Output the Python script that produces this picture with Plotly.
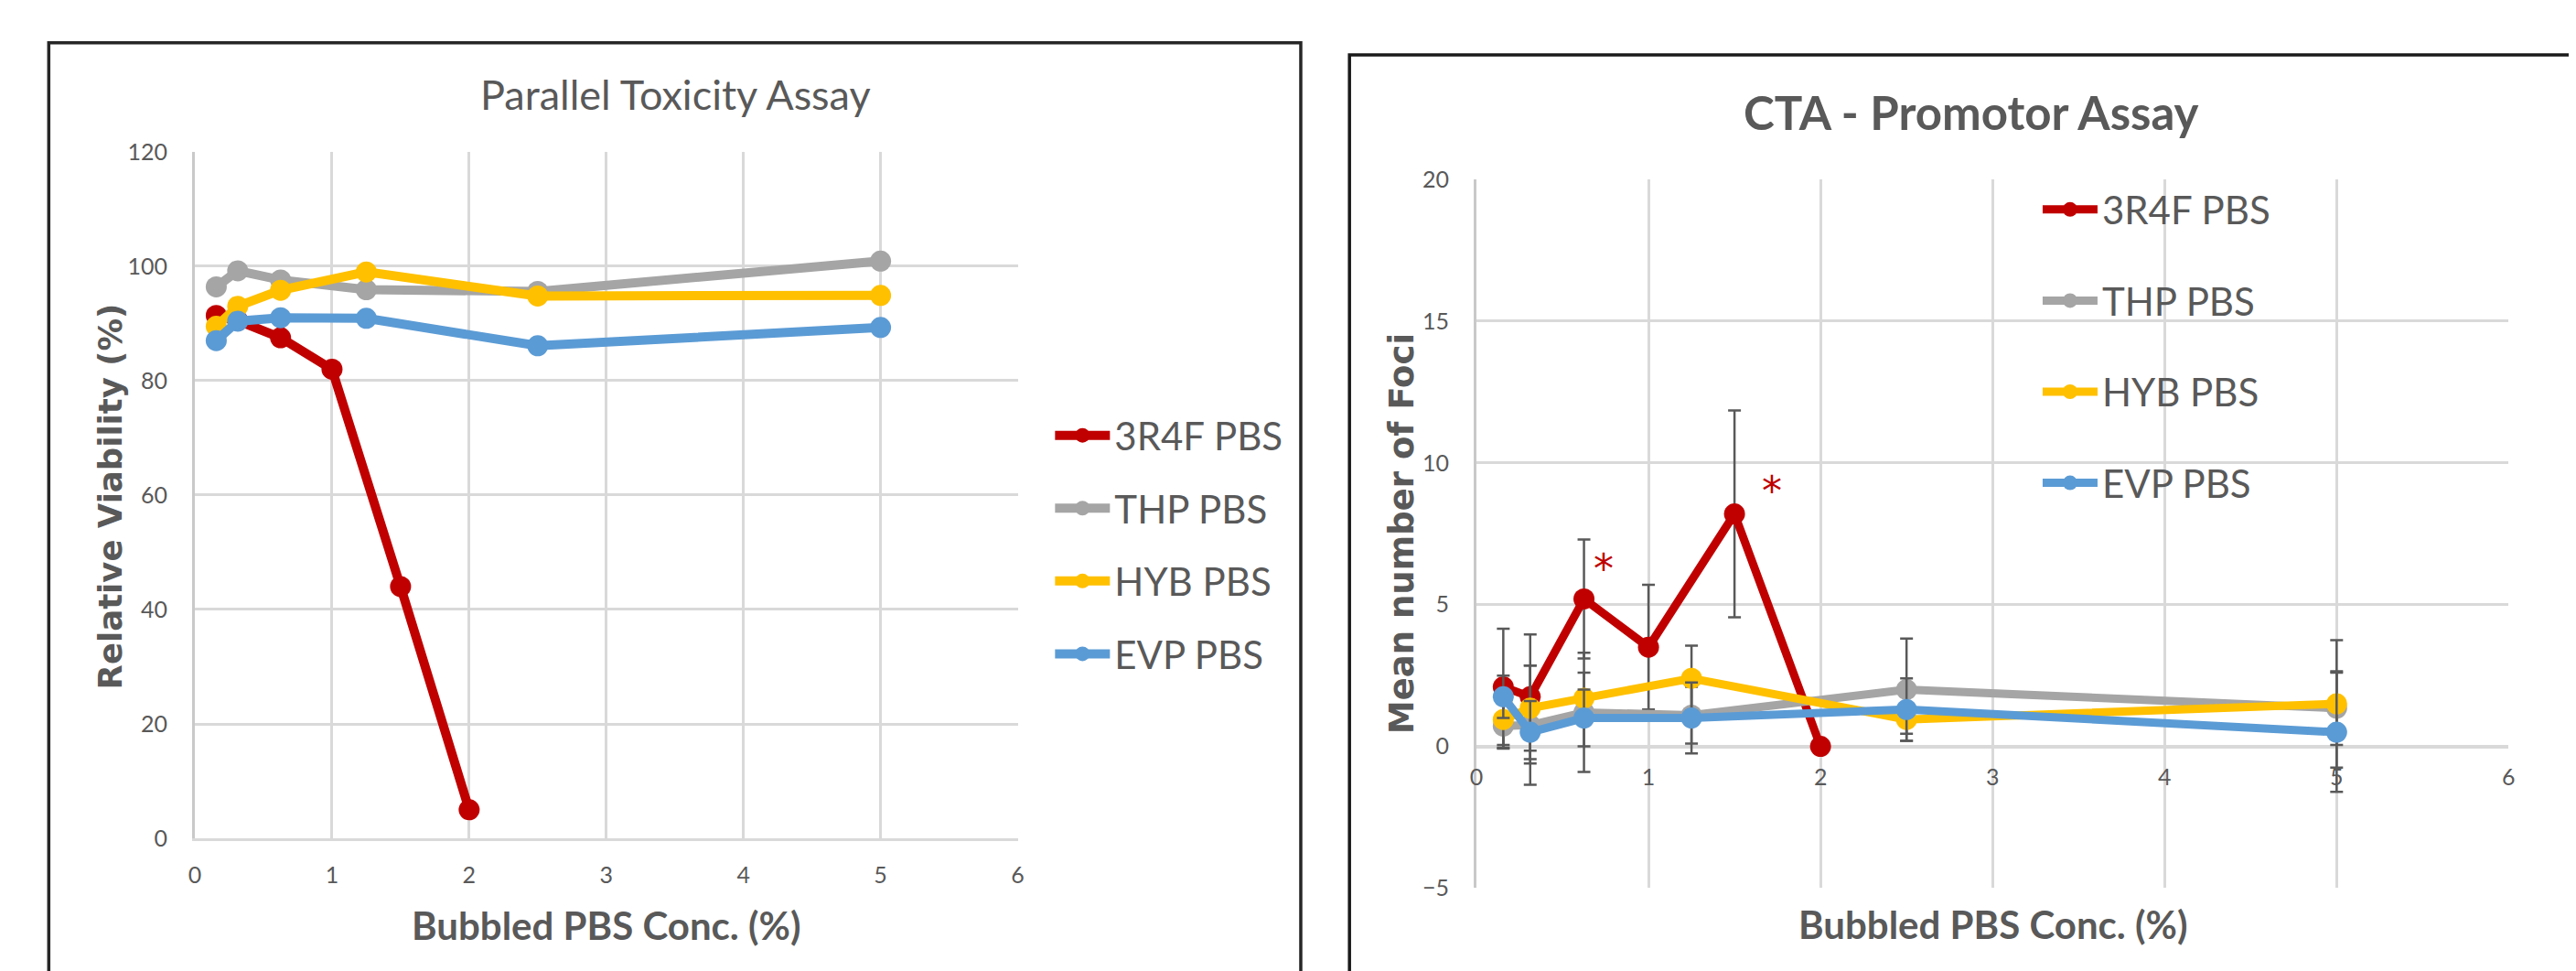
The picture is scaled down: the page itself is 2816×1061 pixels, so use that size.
import plotly.graph_objects as go

W, H = 2816, 1061

def px(x):
    return x / W

def py(y):
    return 1 - y / H

# ---------------- data ----------------
series_names = ["3R4F PBS", "THP PBS", "HYB PBS", "EVP PBS"]
series_colors = ["#C00000", "#A5A5A5", "#FFC000", "#5B9BD5"]

x_3r4f = [0.156, 0.3125, 0.625, 1.0, 1.5, 2.0]
x_other = [0.156, 0.3125, 0.625, 1.25, 2.5, 5.0]

# Parallel Toxicity Assay (Relative Viability %)
tox_3r4f = [91.4, 90.5, 87.5, 82.0, 44.0, 5.0]
tox_thp = [96.4, 99.2, 97.6, 95.9, 95.6, 100.9]
tox_hyb = [89.5, 93.0, 95.8, 99.0, 94.8, 94.9]
tox_evp = [87.0, 90.4, 91.0, 90.9, 86.1, 89.3]

# CTA - Promotor Assay (Mean number of Foci) and error bars
cta_3r4f = [2.1, 1.75, 5.2, 3.5, 8.2, 0.0]
cta_3r4f_err = [2.05, 2.2, 2.1, 2.2, 3.65, 0.0]
cta_thp = [0.72, 0.75, 1.2, 1.1, 2.0, 1.35]
cta_thp_err = [0.8, 2.1, 2.1, 1.0, 1.8, 1.3]
cta_hyb = [0.95, 1.35, 1.7, 2.4, 0.95, 1.5]
cta_hyb_err = [1.0, 1.5, 0.9, 1.15, 0.5, 2.25]
cta_evp = [1.75, 0.5, 1.0, 1.0, 1.3, 0.5]
cta_evp_err = [0.75, 1.1, 1.0, 1.25, 1.1, 2.1]

# significance marks (x, y)
star_x = [0.74, 1.72]
star_y = [6.25, 9.0]

x_ticks = [0, 1, 2, 3, 4, 5, 6]
left_y_ticks = [0, 20, 40, 60, 80, 100, 120]
right_y_ticks = [-5, 0, 5, 10, 15, 20]

# ---------------- style ----------------
NARROW = "Lato, Liberation Sans Narrow, DejaVu Sans Condensed, sans-serif"
WIDE = "DejaVu Sans, Verdana, sans-serif"
TXT = "#595959"
GRID = "#d9d9d9"

fig = go.Figure()

left_x = [x_3r4f, x_other, x_other, x_other]
left_y = [tox_3r4f, tox_thp, tox_hyb, tox_evp]
for i in range(4):
    fig.add_trace(go.Scatter(
        x=left_x[i], y=left_y[i], mode="lines+markers", name=series_names[i],
        line=dict(color=series_colors[i], width=10),
        marker=dict(color=series_colors[i], size=23),
        xaxis="x", yaxis="y", legend="legend", legendgroup="L%d" % i,
    ))

right_y = [cta_3r4f, cta_thp, cta_hyb, cta_evp]
right_err = [cta_3r4f_err, cta_thp_err, cta_hyb_err, cta_evp_err]
for i in range(4):
    fig.add_trace(go.Scatter(
        x=left_x[i], y=right_y[i], mode="lines+markers", name=series_names[i],
        line=dict(color=series_colors[i], width=9),
        marker=dict(color=series_colors[i], size=23),
        error_y=dict(type="data", array=right_err[i], color=TXT, thickness=2.5, width=7),
        xaxis="x2", yaxis="y2", legend="legend2", legendgroup="R%d" % i,
    ))

# domains (pixel-based)
lx0, lx1, ly_top, ly_bot = 199, 1103, 146, 918
rx0, rx1, ry_top, ry_bot = 1607, 2741, 177, 974
ydom2 = [py(ry_bot), py(ry_top)]
ymin2, ymax2 = -5, 20
zero_pos = ydom2[0] + (0 - ymin2) / (ymax2 - ymin2) * (ydom2[1] - ydom2[0])

tickfont = dict(family=NARROW, size=25, color=TXT)

axis_common = dict(
    showgrid=True, gridcolor=GRID, gridwidth=2.5,
    tickfont=tickfont, ticks="", fixedrange=True,
)

fig.update_layout(
    width=W, height=H, margin=dict(l=0, r=0, t=0, b=0),
    paper_bgcolor="white", plot_bgcolor="white",
    showlegend=True,
    xaxis=dict(domain=[px(lx0), px(lx1)], range=[0, 6], tickvals=x_ticks,
               anchor="y", showline=True, linecolor=GRID, linewidth=3,
               ticklabelstandoff=16, zeroline=False, **axis_common),
    yaxis=dict(domain=[py(ly_bot), py(ly_top)], range=[0, 120], tickvals=left_y_ticks,
               anchor="x", showline=True, linecolor="#c9c9c9", linewidth=3,
               ticklabelstandoff=22, zeroline=False, **axis_common),
    xaxis2=dict(domain=[px(rx0), px(rx1)], range=[0, 6], tickvals=x_ticks,
                anchor="free", position=zero_pos, showline=False,
                ticklabelstandoff=16, zeroline=False, **axis_common),
    yaxis2=dict(domain=ydom2, range=[ymin2, ymax2], tickvals=right_y_ticks,
                anchor="x2", showline=True, linecolor="#c9c9c9", linewidth=3,
                ticklabelstandoff=22, **axis_common,
                zeroline=True, zerolinecolor=GRID, zerolinewidth=3.5),
    legend=dict(x=px(1139), y=py(430), xanchor="left", yanchor="top",
                font=dict(family=NARROW, size=42, color=TXT),
                bgcolor="rgba(0,0,0,0)", tracegroupgap=22, itemwidth=60),
    legend2=dict(x=px(2224), y=py(176), xanchor="left", yanchor="top",
                 font=dict(family=NARROW, size=42, color=TXT),
                 bgcolor="rgba(0,0,0,0)", tracegroupgap=42, itemwidth=60),
)

ann = [
    dict(text="Parallel Toxicity Assay", x=px(727), y=py(81),
         font=dict(family=NARROW, size=45, color=TXT)),
    dict(text="CTA - Promotor Assay", x=px(2151), y=py(101),
         font=dict(family=NARROW, size=51, color=TXT, weight="bold")),
    dict(text="Relative Viability (%)", x=px(106), y=py(533), textangle=-90,
         font=dict(family=WIDE, size=35.5, color=TXT, weight="bold")),
    dict(text="Mean number of Foci", x=px(1525), y=py(575), textangle=-90,
         font=dict(family=WIDE, size=37, color=TXT, weight="bold")),
    dict(text="Bubbled PBS Conc. (%)", x=px(651), y=py(1016),
         font=dict(family=NARROW, size=42, color=TXT, weight="bold")),
    dict(text="Bubbled PBS Conc. (%)", x=px(2175), y=py(1015),
         font=dict(family=NARROW, size=42, color=TXT, weight="bold")),
]
for a in ann:
    a.update(xref="paper", yref="paper", xanchor="center", yanchor="middle", showarrow=False)
    fig.add_annotation(**a)

for sx, sy in zip(star_x, star_y):
    fig.add_annotation(x=sx, y=sy, xref="x2", yref="y2", text="*", showarrow=False,
                       xanchor="center", yanchor="middle",
                       font=dict(family=WIDE, size=44, color="#C00000"))

# panel borders
fig.add_shape(type="rect", xref="paper", yref="paper",
              x0=px(38.5), x1=px(1414), y0=py(1100), y1=py(23.5),
              line=dict(color="#262626", width=3.5), layer="above")
fig.add_shape(type="rect", xref="paper", yref="paper",
              x0=px(1467.5), x1=px(2900), y0=py(1100), y1=py(37),
              line=dict(color="#1a1a1a", width=3.5), layer="above")

fig.write_html("out.html")
